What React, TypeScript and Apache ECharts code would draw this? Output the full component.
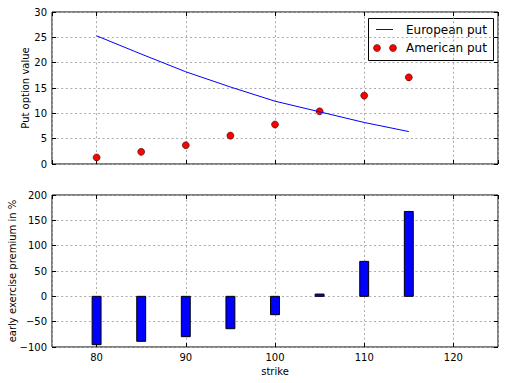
import React, { useEffect, useRef } from "react";
import * as echarts from "echarts";

const strikes = [80, 85, 90, 95, 100, 105, 110, 115];
const europeanPut = [25.3, 21.7, 18.2, 15.2, 12.4, 10.3, 8.2, 6.4];
const americanPut = [1.3, 2.4, 3.7, 5.6, 7.8, 10.4, 13.5, 17.1];
const premiumPct = [-95.4, -88.8, -79.6, -63.9, -36.2, 4.5, 69, 167.5];
const legendNames = ["European put", "American put"];

const FONT = "DejaVu Sans";
const BAR_WIDTH_UNITS = 1;

export default function App() {
  const ref = useRef<HTMLDivElement>(null);
  useEffect(() => {
    document.body.style.margin = "0";
    const chart = echarts.init(ref.current!, null, { renderer: "svg" });
    const gridLine = { show: true, lineStyle: { color: "#ababab", type: [2, 2.6] as any, width: 1 } };
    const tick = { show: true, inside: true, length: 4, lineStyle: { color: "#000" } };
    const noLine = { show: false, onZero: false };
    const fmt = (v: number) => String(v).replace("-", "\u2212");
    const lbl = { color: "#000", fontFamily: FONT, fontSize: 10, formatter: fmt };
    const nameStyle = { color: "#000", fontFamily: FONT, fontSize: 10 };
    const xBase = (gridIndex: number) => ({
      type: "value",
      gridIndex,
      min: 75,
      max: 125,
      splitNumber: 5,
      axisLine: noLine,
      axisTick: tick,
    });
    const gridBase = {
      left: 52,
      width: 446,
      height: 152,
      show: true,
      borderColor: "#000",
      borderWidth: 1,
      backgroundColor: "transparent",
      containLabel: false,
      outerBoundsMode: "none",
    };
    const option: any = {
      animation: false,
      backgroundColor: "#fff",
      textStyle: { fontFamily: FONT },
      grid: [
        { ...gridBase, top: 12 },
        { ...gridBase, top: 195 },
      ],
      graphic: [
        {
          type: "group",
          z: 100,
          children: [
            { type: "rect", shape: { x: 368.5, y: 18.5, width: 125, height: 42 }, style: { fill: "#fff", stroke: "#000", lineWidth: 1 } },
            { type: "line", shape: { x1: 376, y1: 29.5, x2: 393, y2: 29.5 }, style: { stroke: "#0000ff", lineWidth: 1 } },
            { type: "circle", shape: { cx: 377, cy: 48, r: 3.5 }, style: { fill: "#ff0000", stroke: "#000", lineWidth: 0.5 } },
            { type: "circle", shape: { cx: 393, cy: 48, r: 3.5 }, style: { fill: "#ff0000", stroke: "#000", lineWidth: 0.5 } },
            { type: "text", x: 406, y: 29.5, style: { text: legendNames[0], fill: "#000", font: `12px '${FONT}'`, verticalAlign: "middle", align: "left" } },
            { type: "text", x: 406, y: 48, style: { text: legendNames[1], fill: "#000", font: `12px '${FONT}'`, verticalAlign: "middle", align: "left" } },
          ],
        },
      ],
      xAxis: [
        { ...xBase(0), position: "bottom", axisLabel: { show: false }, splitLine: gridLine },
        { ...xBase(0), position: "top", axisLabel: { show: false }, splitLine: { show: false } },
        {
          ...xBase(1),
          position: "bottom",
          axisLabel: { ...lbl, margin: 5, showMinLabel: false, showMaxLabel: false },
          splitLine: gridLine,
          name: "strike",
          nameLocation: "middle",
          nameGap: 19,
          nameMoveOverlap: false,
          nameTextStyle: nameStyle,
        },
        { ...xBase(1), position: "top", axisLabel: { show: false }, splitLine: { show: false } },
      ],
      yAxis: [
        {
          type: "value",
          gridIndex: 0,
          min: 0,
          max: 30,
          interval: 5,
          axisLine: noLine,
          axisTick: tick,
          axisLabel: { ...lbl, margin: 5 },
          splitLine: gridLine,
          name: "Put option value",
          nameLocation: "middle",
          nameGap: 21.5,
          nameMoveOverlap: false,
          nameTextStyle: nameStyle,
        },
        {
          type: "value",
          gridIndex: 0,
          position: "right",
          min: 0,
          max: 30,
          interval: 5,
          axisLine: noLine,
          axisTick: tick,
          axisLabel: { show: false },
          splitLine: { show: false },
        },
        {
          type: "value",
          gridIndex: 1,
          min: -100,
          max: 200,
          interval: 50,
          axisLine: noLine,
          axisTick: tick,
          axisLabel: { ...lbl, margin: 5 },
          splitLine: gridLine,
          name: "early exercise premium in %",
          nameLocation: "middle",
          nameGap: 35,
          nameMoveOverlap: false,
          nameTextStyle: nameStyle,
        },
        {
          type: "value",
          gridIndex: 1,
          position: "right",
          min: -100,
          max: 200,
          interval: 50,
          axisLine: noLine,
          axisTick: tick,
          axisLabel: { show: false },
          splitLine: { show: false },
        },
      ],
      series: [
        {
          name: legendNames[0],
          type: "line",
          xAxisIndex: 0,
          yAxisIndex: 0,
          symbol: "none",
          lineStyle: { color: "#0000ff", width: 1 },
          itemStyle: { color: "#0000ff" },
          data: strikes.map((s, i) => [s, europeanPut[i]]),
        },
        {
          name: legendNames[1],
          type: "scatter",
          xAxisIndex: 0,
          yAxisIndex: 0,
          symbol: "circle",
          symbolSize: 7,
          itemStyle: { color: "#ff0000", borderColor: "#000", borderWidth: 0.5, opacity: 1 },
          data: strikes.map((s, i) => [s, americanPut[i]]),
        },
        {
          name: "premium",
          type: "custom",
          xAxisIndex: 2,
          yAxisIndex: 2,
          encode: { x: 0, y: 1 },
          data: strikes.map((s, i) => [s, premiumPct[i]]),
          renderItem: (params: any, api: any) => {
            const x = api.value(0);
            const y = api.value(1);
            const top = api.coord([x, Math.max(y, 0)]);
            const bottom = api.coord([x, Math.min(y, 0)]);
            const w = api.size([BAR_WIDTH_UNITS, 0])[0];
            return {
              type: "rect",
              shape: { x: top[0] - w / 2, y: top[1], width: w, height: bottom[1] - top[1] },
              style: { fill: "#0000ff", stroke: "#000", lineWidth: 1 },
            };
          },
        },
      ],
    };
    chart.setOption(option);
    return () => chart.dispose();
  }, []);
  return <div ref={ref} style={{ width: 505, height: 383 }} />;
}
